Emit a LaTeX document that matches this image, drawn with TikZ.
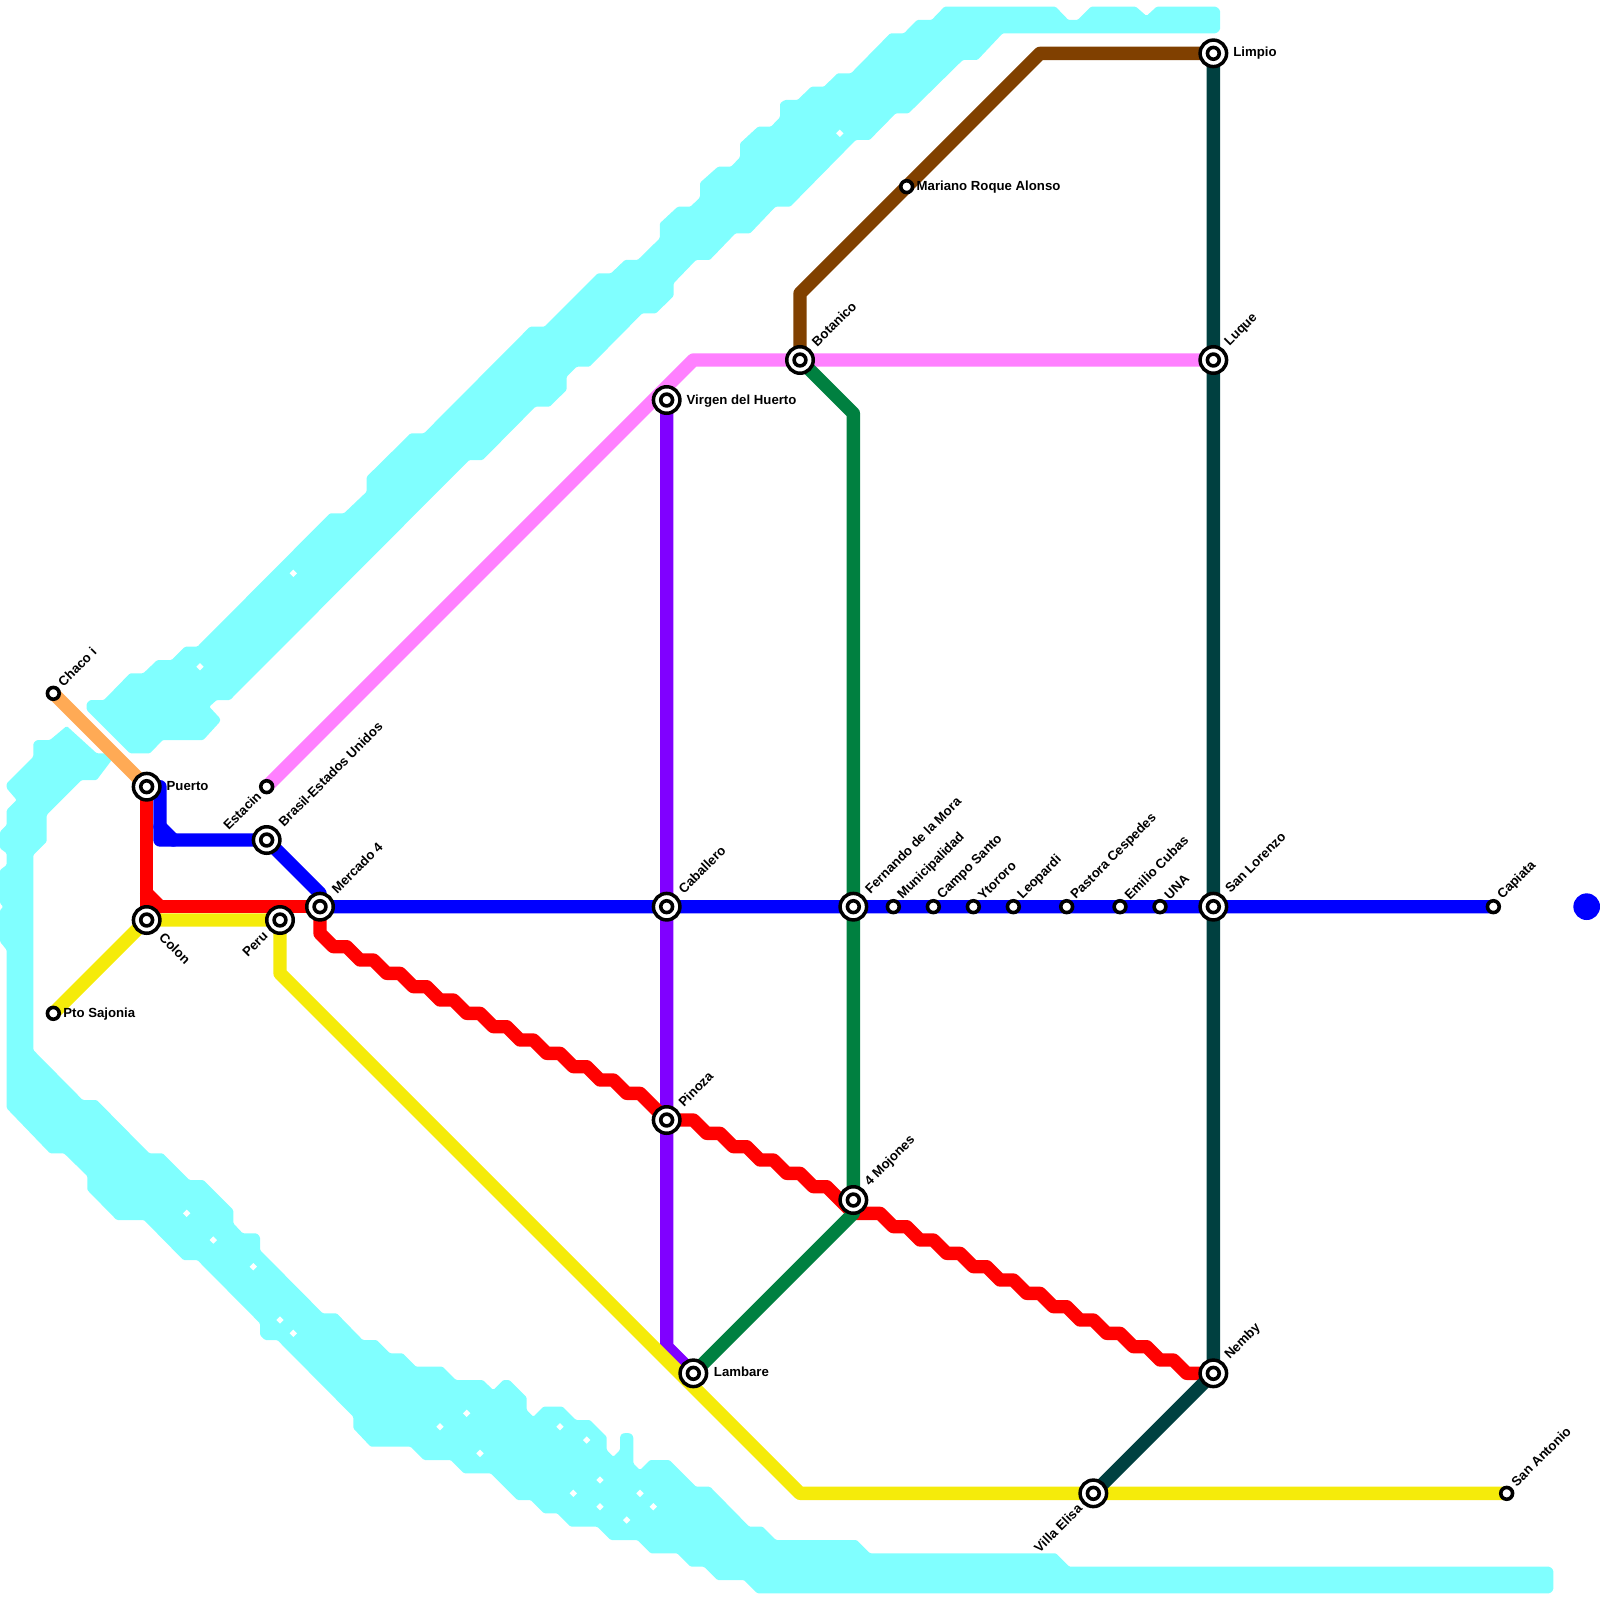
\documentclass[tikz,border=0pt]{standalone}
\usepackage{fontspec}
\setmainfont{Liberation Sans}
\usetikzlibrary{backgrounds}
\definecolor{water}{HTML}{80FFFF}
\definecolor{lorange}{HTML}{FFAA55}
\definecolor{lpink}{HTML}{FF80FF}
\definecolor{lbrown}{HTML}{804000}
\definecolor{lpurple}{HTML}{8000FF}
\definecolor{lyellow}{HTML}{F5EB0A}
\definecolor{lred}{HTML}{FF0000}
\definecolor{lblue}{HTML}{0000FF}
\definecolor{lgreen}{HTML}{008040}
\definecolor{lteal}{HTML}{004040}
\tikzset{
  metroline/.style={line width=6.67pt,line join=round,line cap=round},
  ic/.style={circle,draw=black,fill=white,line width=1.75pt,minimum size=13.25pt,inner sep=0pt,outer sep=0pt,
    path picture={\draw[black,line width=1.8pt,fill=white] (path picture bounding box.center) circle (2.95pt);}},
  stop/.style={circle,draw=black,fill=white,line width=1.8pt,minimum size=5.9pt,inner sep=0pt,outer sep=0pt},
  lab/.style={font=\fontsize{6.6pt}{8pt}\selectfont\bfseries,inner sep=0pt,outer sep=0pt,text=black},
  labr/.style={lab,anchor=west},
  labne/.style={lab,anchor=west,rotate=45},
  labse/.style={lab,anchor=west,rotate=-45},
  labsw/.style={lab,anchor=east,rotate=45},
  riverfill/.style={fill=water,rounded corners=0.6pt},
}
\newcommand{\riverhole}[2]{\fill[white] (#1-3.7,#2) -- (#1,#2-3.7) -- (#1+3.7,#2) -- (#1,#2+3.7) -- cycle;}
\begin{document}
\begin{tikzpicture}[x=6.66667pt,y=-6.66667pt]
\useasboundingbox (0,0) rectangle (120,120);
% stations
\node[ic] (puerto) at (11,59) {};
\node[ic] (colon) at (11,69) {};
\node[ic] (peru) at (21,69) {};
\node[ic] (mercado) at (24,68) {};
\node[ic] (brasil) at (20,63) {};
\node[stop] (estacin) at (20,59) {};
\node[stop] (chaco) at (4,52) {};
\node[stop] (sajonia) at (4,76) {};
\node[ic] (virgen) at (50,30) {};
\node[ic] (caballero) at (50,68) {};
\node[ic] (pinoza) at (50,84) {};
\node[ic] (lambare) at (52,103) {};
\node[ic] (botanico) at (60,27) {};
\node[stop] (mariano) at (68,14) {};
\node[ic] (fernando) at (64,68) {};
\node[ic] (mojones) at (64,90) {};
\node[stop] (muni) at (67,68) {};
\node[stop] (campo) at (70,68) {};
\node[stop] (ytororo) at (73,68) {};
\node[stop] (leopardi) at (76,68) {};
\node[stop] (pastora) at (80,68) {};
\node[stop] (emilio) at (84,68) {};
\node[stop] (una) at (87,68) {};
\node[ic] (limpio) at (91,4) {};
\node[ic] (luque) at (91,27) {};
\node[ic] (sanlorenzo) at (91,68) {};
\node[ic] (nemby) at (91,103) {};
\node[ic] (villa) at (82,112) {};
\node[stop] (capiata) at (112,68) {};
\node[stop] (sanantonio) at (113,112) {};
\coordinate (bluestart) at (12,59);
% labels
\node[labr] (t1) at ([xshift=10pt,yshift=0.2pt]puerto.center) {Puerto};
\node[labr] (t2) at ([xshift=5pt,yshift=-0.2pt]sajonia.center) {Pto Sajonia};
\node[labr] (t3) at ([xshift=10.3pt,yshift=0.6pt]lambare.center) {Lambare};
\node[labr] (t4) at ([xshift=10pt,yshift=-0.5pt]virgen.center) {Virgen del Huerto};
\node[labr] (t5) at ([xshift=10pt,yshift=0.3pt]limpio.center) {Limpio};
\node[labr] (t6) at ([xshift=5pt,yshift=-0.2pt]mariano.center) {Mariano Roque Alonso};
\node[labne] (t7) at ([shift={(3.5pt,4.8pt)}]chaco.center) {Chaco i};
\node[labne] (t8) at ([shift={(7pt,8pt)}]brasil.center) {Brasil-Estados Unidos};
\node[labne] (t9) at ([shift={(7pt,8pt)}]mercado.center) {Mercado 4};
\node[labne] (t10) at ([shift={(7pt,8pt)}]botanico.center) {Botanico};
\node[labne] (t11) at ([shift={(7pt,8pt)}]luque.center) {Luque};
\node[labne] (t12) at ([shift={(7pt,8pt)}]caballero.center) {Caballero};
\node[labne] (t13) at ([shift={(7pt,8pt)}]pinoza.center) {Pinoza};
\node[labne] (t14) at ([shift={(7pt,8pt)}]fernando.center) {Fernando de la Mora};
\node[labne] (t15) at ([shift={(7pt,8pt)}]mojones.center) {4 Mojones};
\node[labne] (t16) at ([shift={(7pt,8pt)}]sanlorenzo.center) {San Lorenzo};
\node[labne] (t17) at ([shift={(7pt,8pt)}]nemby.center) {Nemby};
\node[labne] (t18) at ([shift={(3.4pt,4.7pt)}]muni.center) {Municipalidad};
\node[labne] (t19) at ([shift={(3.4pt,4.7pt)}]campo.center) {Campo Santo};
\node[labne] (t20) at ([shift={(3.4pt,4.7pt)}]ytororo.center) {Ytororo};
\node[labne] (t21) at ([shift={(3.4pt,4.7pt)}]leopardi.center) {Leopardi};
\node[labne] (t22) at ([shift={(3.4pt,4.7pt)}]pastora.center) {Pastora Cespedes};
\node[labne] (t23) at ([shift={(3.4pt,4.7pt)}]emilio.center) {Emilio Cubas};
\node[labne] (t24) at ([shift={(3.4pt,4.7pt)}]una.center) {UNA};
\node[labne] (t25) at ([shift={(3.4pt,4.7pt)}]capiata.center) {Capiata};
\node[labne] (t26) at ([shift={(3.4pt,4.7pt)}]sanantonio.center) {San Antonio};
\node[labse] (t27) at ([shift={(7.5pt,-7.5pt)}]colon.center) {Colon};
\node[labsw] (t28) at ([shift={(-7.3pt,-6.8pt)}]peru.center) {Peru};
\node[labsw] (t29) at ([shift={(-4pt,-3.7pt)}]estacin.center) {Estacin};
\node[labsw] (t30) at ([shift={(-6.8pt,-6.5pt)}]villa.center) {Villa Elisa};
\begin{pgfonlayer}{background}
\begin{scope}[x=0.5pt,y=-0.5pt]
\fill[riverfill] (66.7,726) -- (96.7,753.3) -- (111.7,753.3) -- (113.3,758) -- (96.7,780) -- (81.7,780) -- (46.7,815) -- (46.7,841.7) -- (33.3,855) -- (33.3,1050) -- (82.7,1100) -- (96.7,1100) -- (149.3,1153.3) -- (162.7,1153.3) -- (189.3,1180) -- (203.3,1180) -- (233.3,1210) -- (233.3,1223.3) -- (242.7,1233.3) -- (256.7,1233.3) -- (260,1236.7) -- (260,1250) -- (322.7,1313.3) -- (336.7,1313.3) -- (362.7,1340) -- (376.7,1340) -- (390,1353.3) -- (402.7,1353.3) -- (416,1366.7) -- (442.7,1366.7) -- (456,1380) -- (482.7,1380) -- (493.3,1390) -- (503.3,1380) -- (509.3,1380) -- (526.7,1397.3) -- (526.7,1410) -- (533.3,1416.7) -- (543.3,1406.7) -- (562.7,1406.7) -- (576,1420) -- (590,1420) -- (606.7,1436.7) -- (606.7,1450) -- (613.3,1456.7) -- (620,1450) -- (620,1436.7) -- (622,1433.5) -- (626.7,1433) -- (631,1433.5) -- (633.3,1436.7) -- (633.3,1463.3) -- (640,1470) -- (650,1460) -- (669.3,1460) -- (696,1486.7) -- (710,1486.7) -- (749.3,1526.7) -- (762.7,1526.7) -- (776,1540) -- (856.7,1540) -- (870,1553.3) -- (1056,1553.3) -- (1069.3,1566.7) -- (1550,1566.7) -- (1553.3,1570) -- (1553.3,1590) -- (1550,1593.3) -- (757.3,1593.3) -- (744,1580) -- (717.3,1580) -- (704,1566.7) -- (690.7,1566.7) -- (677.3,1553.3) -- (650.7,1553.3) -- (637.3,1540) -- (610.7,1540) -- (597.3,1526.7) -- (570.7,1526.7) -- (557.3,1513.3) -- (544,1513.3) -- (530.7,1500) -- (517.3,1500) -- (490.7,1473.3) -- (464,1473.3) -- (450.7,1460) -- (424,1460) -- (410.7,1446.7) -- (370.7,1446.7) -- (353.3,1428.3) -- (353.3,1416.7) -- (277.3,1340) -- (265,1340) -- (260,1335) -- (260,1323.3) -- (197.3,1260) -- (183.3,1260) -- (144,1220) -- (116.7,1220) -- (87.3,1190) -- (87.3,1176) -- (64,1153.3) -- (50,1153.3) -- (6.7,1108.3) -- (6.7,950) -- (0,941.7) -- (0,910) -- (3.3,906.7) -- (0,903.3) -- (0,870) -- (6.7,865) -- (6.7,853.3) -- (0,848.3) -- (0,831.7) -- (6.7,825) -- (6.7,810) -- (16.7,800) -- (6.7,788.3) -- (6.7,783.3) -- (33.3,756.7) -- (33.3,743.3) -- (36.7,740) -- (50,740) -- cycle;
\fill[riverfill] (86.7,703.3) -- (90,700) -- (104,700) -- (130,673.3) -- (143.3,673.3) -- (157.3,660) -- (171.7,660) -- (185,646.7) -- (197.3,646.7) -- (330,513.3) -- (344,513.3) -- (366.7,491.7) -- (366.7,476.7) -- (410.7,433.3) -- (424,433.3) -- (530,326.7) -- (544.5,326.7) -- (597.8,273.3) -- (611,273.3) -- (624.9,260) -- (637.7,260) -- (659.8,238.3) -- (659.8,223.3) -- (677.7,206.7) -- (690.5,206.7) -- (700,197.3) -- (700,182.7) -- (718,166.7) -- (731,166.7) -- (740,157.3) -- (740,143.3) -- (758,126.7) -- (770.9,126.7) -- (780,117.3) -- (780,103.3) -- (784.7,100) -- (797.5,100) -- (811.3,86.7) -- (824,86.7) -- (837.5,73.3) -- (851,73.3) -- (890.3,33.3) -- (904,33.3) -- (917,20) -- (931.6,20) -- (944.4,6.7) -- (1055.6,6.7) -- (1068.4,20) -- (1077.6,20) -- (1090.9,6.7) -- (1135.9,6.7) -- (1146.5,16) -- (1156.6,6.7) -- (1216.3,6.7) -- (1220,10) -- (1220,30) -- (1216.3,33.3) -- (1002.7,33.3) -- (977.5,60) -- (962.8,60) -- (908.6,113.3) -- (895.8,113.3) -- (869.6,140) -- (855.8,140) -- (790.2,206.7) -- (775.5,206.7) -- (750.2,233.3) -- (735.5,233.3) -- (709.8,260) -- (696,260) -- (673.6,283.3) -- (673.6,296) -- (656.1,313.3) -- (642.3,313.3) -- (589.5,366.7) -- (576.7,366.7) -- (566.6,376.7) -- (566.6,390) -- (549.6,406.7) -- (535.4,406.7) -- (482.7,460) -- (469.3,460) -- (230,700) -- (216.7,700) -- (209.3,706.7) -- (220,718.3) -- (220,721.7) -- (203.3,740) -- (162.7,740) -- (150,753.3) -- (130,753.3) -- (86.7,710) -- cycle;
\foreach \hx/\hy in {200/666.7,293.3/573.3,839.8/133.3,186.7/1213.3,213.3/1240,253.3/1266.7,280/1320,293.3/1333.3,440/1426.7,466.7/1413.3,480/1453.3,560/1426.7,586.7/1440,600/1480,573.3/1493.3,600/1506.7,640/1493.3,653.3/1506.7,626.7/1520}{\riverhole{\hx}{\hy}}
\fill[lblue] (1586.67,906.67) circle (13.33);
\end{scope}
\draw[metroline,lorange] (chaco.center) -- (puerto.center);
\draw[metroline,lpink] (estacin.center) -- (52,27) -- (luque.center);
\draw[metroline,lbrown] (limpio.center) -- (78,4) -- (mariano.center) -- (60,22) -- (botanico.center);
\draw[metroline,lpurple] (virgen.center) -- (50,101) -- (lambare.center);
\draw[metroline,lyellow] (sajonia.center) -- (colon.center) -- (peru.center) -- (21,73) -- (60,112) -- (sanantonio.center);
\draw[metroline,lred] (puerto.center) -- (11,68) -- (mercado.center);
\draw[metroline,lred] (11,67) -- (12,68);
\draw[metroline,lred] (mercado.center) -- (24,70) -- (25,71)
   \foreach \k in {0,...,11}{ -- (26+2*\k,71+\k) -- (27+2*\k,72+\k) }
   -- (pinoza.center) -- (51,84)
   \foreach \k in {0,...,5}{ -- (52+2*\k,84+\k) -- (53+2*\k,85+\k) }
   -- (64,91) -- (65,91)
   \foreach \k in {0,...,11}{ -- (66+2*\k,91+\k) -- (67+2*\k,92+\k) }
   -- (nemby.center);
\draw[metroline,lblue] (bluestart) -- (12,63) -- (brasil.center) -- (24,67) -- (mercado.center) -- (capiata.center);
\draw[metroline,lblue] (12,62) -- (13,63);
\draw[metroline,lgreen] (botanico.center) -- (64,31) -- (64,91) -- (lambare.center);
\draw[metroline,lteal] (limpio.center) -- (nemby.center) -- (villa.center);
\end{pgfonlayer}
\end{tikzpicture}
\end{document}
